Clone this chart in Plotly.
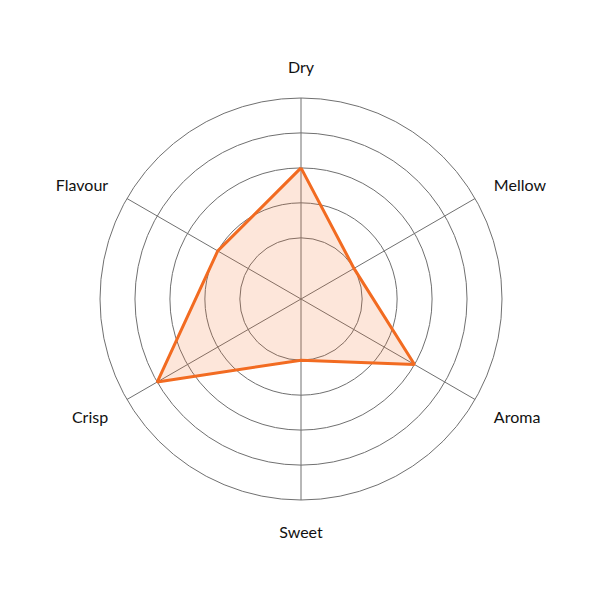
import plotly.graph_objects as go

# flavour profile, 0-5 scale
attributes = ["Dry", "Mellow", "Aroma", "Sweet", "Crisp", "Flavour"]
scores = [3, 1, 3, 1, 4, 2]
ring_values = [1, 2, 3, 4]

fig = go.Figure()
fig.add_trace(go.Scatterpolar(
    r=scores + scores[:1],
    theta=attributes + attributes[:1],
    mode="lines",
    fill="toself",
    fillcolor="rgba(242, 107, 33, 0.17)",
    line=dict(color="#f26b21", width=3),
    hoverinfo="r+theta",
))

fig.update_layout(
    width=600, height=600,
    paper_bgcolor="white",
    showlegend=False,
    margin=dict(l=92, r=106, t=90, b=108),
    font=dict(family="Lato, Open Sans, sans-serif", size=16, color="#111"),
    polar=dict(
        bgcolor="white",
        radialaxis=dict(
            range=[-0.75, 5], tickvals=ring_values,
            showticklabels=False, ticks="", showline=False,
            gridcolor="#707070", gridwidth=1,
        ),
        angularaxis=dict(
            direction="clockwise", rotation=90,
            showline=True, linecolor="#707070", linewidth=1,
            gridcolor="#707070", gridwidth=1,
            ticks="outside", ticklen=18, tickcolor="rgba(0,0,0,0)",
            tickfont=dict(size=16, color="#111"),
        ),
    ),
)

fig.write_html("out.html")
